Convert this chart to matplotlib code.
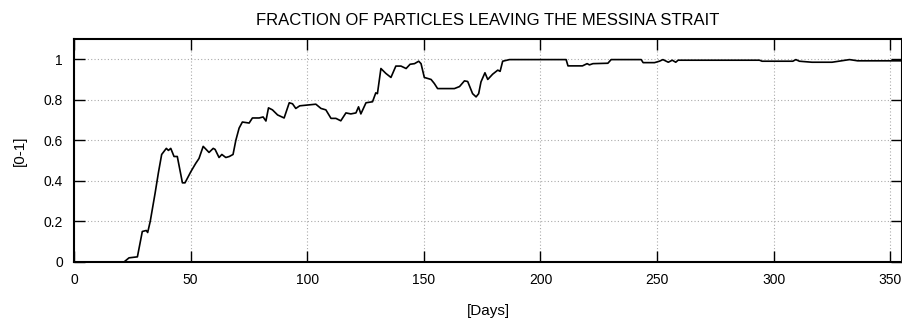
import matplotlib
matplotlib.use('Agg')
import matplotlib.pyplot as plt

# values
days = [0, 21.5, 23.6, 27.2, 29.3, 31.0, 31.6, 32.7, 34.8, 36.2, 37.6, 39.6, 40.5, 41.5,
        42.9, 44.3, 46.5, 47.6, 50.1, 52.2, 53.6, 55.4, 57.9, 59.7, 60.5, 62.2, 63.4,
        65.1, 66.6, 68.2, 69.4, 70.8, 72.2, 75.1, 76.5, 79.4, 81.1, 82.3, 83.4, 85.1,
        87.3, 90.1, 92.3, 93.7, 95.1, 96.8, 99.4, 103.7, 105.9, 108.0, 110.2, 112.3,
        114.4, 116.6, 118.7, 120.9, 122.0, 123.0, 125.2, 128.0, 129.4, 130.1, 131.6,
        133.7, 135.9, 138.0, 140.2, 142.4, 144.1, 146.0, 147.8, 148.8, 150.2, 153.1,
        154.5, 155.9, 163.1, 165.3, 167.4, 168.8, 170.9, 172.4, 173.5, 174.5, 176.2,
        177.4, 179.5, 181.7, 182.7, 183.8, 186.7, 190.9, 211.0, 211.8, 218.0, 220.0,
        221.0, 222.5, 228.9, 230.3, 243.2, 244.0, 248.9, 251.0, 252.5, 254.8, 256.5,
        258.0, 259.0, 293.9, 295.0, 308.2, 309.5, 311.0, 316.4, 325.0, 332.5, 336.0, 355.0]
fraction = [0, 0, 0.02, 0.025, 0.15, 0.155, 0.145, 0.2, 0.34, 0.44, 0.53, 0.56, 0.55, 0.56,
            0.52, 0.52, 0.39, 0.39, 0.445, 0.486, 0.51, 0.57, 0.54, 0.56, 0.555, 0.515, 0.53,
            0.515, 0.52, 0.53, 0.6, 0.66, 0.69, 0.685, 0.71, 0.71, 0.715, 0.695, 0.76, 0.75,
            0.725, 0.71, 0.785, 0.78, 0.757, 0.77, 0.773, 0.778, 0.757, 0.75, 0.708, 0.708,
            0.696, 0.735, 0.73, 0.735, 0.765, 0.73, 0.785, 0.79, 0.834, 0.83, 0.954,
            0.93, 0.91, 0.966, 0.966, 0.954, 0.975, 0.978, 0.99, 0.978, 0.91, 0.9,
            0.88, 0.855, 0.855, 0.865, 0.893, 0.89, 0.83, 0.814, 0.83, 0.888, 0.933,
            0.9, 0.926, 0.946, 0.94, 0.99, 0.998, 0.998, 0.998, 0.967, 0.967, 0.978,
            0.972, 0.978, 0.98, 0.998, 0.998, 0.983, 0.983, 0.99, 0.998, 0.985, 0.995,
            0.985, 0.995, 0.995, 0.99, 0.99, 0.998, 0.99, 0.985, 0.985, 0.998, 0.992, 0.992]

x_ticks = [0, 50, 100, 150, 200, 250, 300, 350]
y_ticks = [0, 0.2, 0.4, 0.6, 0.8, 1]
y_tick_labels = ['0', '0.2', '0.4', '0.6', '0.8', '1']

plt.rcParams['font.family'] = ['Liberation Sans', 'DejaVu Sans']

fig = plt.figure(figsize=(9.02, 3.19), dpi=100)
ax = fig.add_axes([0.082, 0.179, 0.918, 0.699])

ax.plot(days, fraction, color='black', lw=1.2)

ax.set_xlim(0, 355)
ax.set_ylim(0, 1.1)
ax.set_xticks(x_ticks)
ax.set_yticks(y_ticks)
ax.set_yticklabels(y_tick_labels)
ax.tick_params(direction='in', length=8, width=1, top=True, right=True, labelsize=10, pad=8)
ax.grid(True, linestyle=(0, (1, 2)), color='#aaaaaa', lw=0.8)
for s in ax.spines.values():
    s.set_linewidth(1.5)

ax.set_title('FRACTION OF PARTICLES LEAVING THE MESSINA STRAIT', fontsize=12, pad=10)
ax.set_xlabel('[Days]', fontsize=11, labelpad=12)
ax.set_ylabel('[0-1]', fontsize=11, labelpad=12)

fig.savefig('out.png', dpi=100)
